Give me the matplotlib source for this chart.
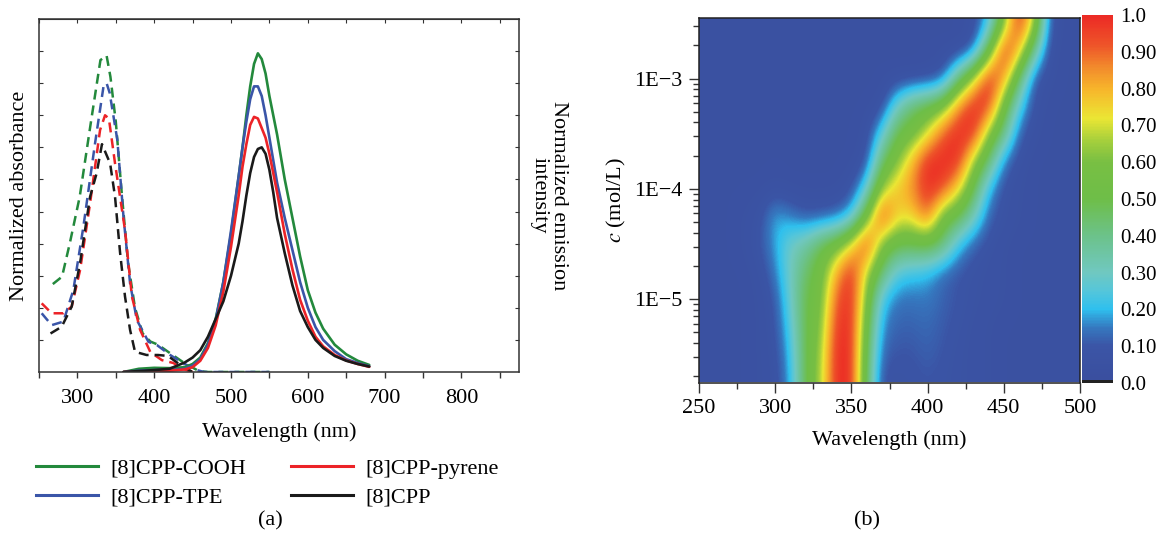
import matplotlib
matplotlib.use("Agg")
import matplotlib.pyplot as plt
from matplotlib.colors import LinearSegmentedColormap
from matplotlib.lines import Line2D
import numpy as np

plt.rcParams['font.family'] = ['Liberation Serif', 'DejaVu Serif']
plt.rcParams['font.size'] = 16
plt.rcParams['mathtext.fontset'] = 'stix'

# ---- panel (a): absorption (dashed) and emission (solid) ----
names = ['[8]CPP-COOH', '[8]CPP-TPE', '[8]CPP-pyrene', '[8]CPP']
colors = ['#23893c', '#3a55a8', '#ec2327', '#1a1a1a']

abs_cooh_x = [268, 280, 290, 303, 318, 330, 338, 343, 350, 358, 366, 375, 385, 395, 405, 421, 438, 458, 470, 550]
abs_cooh_y = [0.274, 0.297, 0.40, 0.546, 0.785, 0.972, 0.986, 0.92, 0.78, 0.55, 0.34, 0.20, 0.12, 0.095, 0.085, 0.058, 0.03, 0.003, 0.0, 0.0]
abs_tpe_x = [253.5, 266.5, 281.7, 294.7, 307.8, 323, 334, 338, 342, 352, 360, 368.6, 377.4, 392.5, 403.5, 420.8, 438, 455.6, 465, 550]
abs_tpe_y = [0.183, 0.146, 0.157, 0.255, 0.453, 0.713, 0.89, 0.90, 0.87, 0.723, 0.484, 0.276, 0.162, 0.094, 0.084, 0.053, 0.027, 0.006, 0.0, 0.0]
abs_pyr_x = [253.5, 266.5, 281.7, 292.6, 303.5, 316.5, 329.5, 336, 341, 349, 362, 371, 381.7, 395, 410, 425, 437, 450]
abs_pyr_y = [0.214, 0.183, 0.183, 0.204, 0.318, 0.526, 0.754, 0.80, 0.79, 0.65, 0.442, 0.235, 0.131, 0.062, 0.037, 0.028, 0.01, 0.0]
abs_cpp_x = [265, 279.5, 292.6, 303.5, 316.5, 325, 332, 342.6, 349, 355.6, 362, 368.6, 375, 390, 405, 418, 434, 450]
abs_cpp_y = [0.12, 0.141, 0.204, 0.34, 0.546, 0.619, 0.71, 0.65, 0.546, 0.371, 0.235, 0.131, 0.063, 0.053, 0.053, 0.05, 0.022, 0.0]

em_wl = [360, 380, 400, 420, 440, 450, 460, 470, 480, 490, 500, 510, 515, 520, 525, 530,
         535, 540, 545, 550, 555, 560, 570, 580, 590, 600, 610, 620, 635, 650, 665, 680]
em_cooh = [0.0, 0.010, 0.013, 0.012, 0.015, 0.025, 0.045, 0.09, 0.165, 0.28, 0.43, 0.61, 0.70, 0.80, 0.89, 0.96,
           0.993, 0.975, 0.93, 0.86, 0.80, 0.74, 0.60, 0.48, 0.36, 0.255, 0.185, 0.135, 0.085, 0.055, 0.035, 0.022]
em_tpe = [0.0, 0.004, 0.006, 0.006, 0.010, 0.020, 0.040, 0.085, 0.16, 0.28, 0.44, 0.61, 0.70, 0.78, 0.85, 0.89,
          0.89, 0.86, 0.80, 0.73, 0.66, 0.59, 0.48, 0.38, 0.28, 0.20, 0.14, 0.10, 0.065, 0.04, 0.028, 0.018]
em_pyr = [0.0, 0.0, 0.002, 0.004, 0.008, 0.015, 0.035, 0.075, 0.145, 0.25, 0.39, 0.55, 0.64, 0.71, 0.77, 0.795,
          0.79, 0.76, 0.73, 0.68, 0.62, 0.56, 0.43, 0.32, 0.225, 0.16, 0.11, 0.08, 0.053, 0.036, 0.025, 0.016]
em_cpp = [0.0, 0.003, 0.006, 0.010, 0.030, 0.045, 0.068, 0.11, 0.165, 0.22, 0.30, 0.40, 0.47, 0.55, 0.62, 0.67,
          0.695, 0.70, 0.68, 0.63, 0.56, 0.48, 0.37, 0.27, 0.19, 0.14, 0.10, 0.075, 0.05, 0.035, 0.025, 0.017]

# ---- panel (b): normalized intensity map, rows = log10 c (bottom->top), cols = 250..500 nm ----
map_wl = np.arange(250, 501, 10)
map_logc = [-5.75, -5.5, -5.25, -5.0, -4.75, -4.5, -4.25, -4.0, -3.75, -3.5, -3.25, -3.0, -2.75, -2.5]
b = 0.05
map_rows = [
    [b, b, b, b, 0.06, 0.07, 0.18, 0.5, 0.66, 1.0, 1.0, 0.45, 0.08, 0.08, 0.09, 0.1, 0.09, 0.08, 0.07, 0.06, b, b, b, b, b, b],
    [b, b, b, b, 0.06, 0.08, 0.2, 0.5, 0.64, 1.0, 1.0, 0.48, 0.12, 0.1, 0.1, 0.12, 0.1, 0.08, 0.07, 0.06, b, b, b, b, b, b],
    [b, b, b, b, 0.06, 0.09, 0.24, 0.5, 0.6, 0.97, 1.0, 0.53, 0.16, 0.12, 0.12, 0.13, 0.11, 0.09, 0.07, 0.06, b, b, b, b, b, b],
    [b, b, b, b, 0.06, 0.1, 0.28, 0.5, 0.56, 0.92, 1.0, 0.6, 0.22, 0.14, 0.14, 0.15, 0.12, 0.1, 0.08, 0.07, 0.06, b, b, b, b, b],
    [b, b, b, b, 0.07, 0.15, 0.3, 0.45, 0.55, 0.8, 1.0, 0.68, 0.45, 0.25, 0.22, 0.2, 0.13, 0.1, 0.08, 0.07, 0.06, b, b, b, b, b],
    [b, b, b, 0.06, 0.1, 0.18, 0.3, 0.35, 0.48, 0.55, 0.72, 1.0, 0.6, 0.5, 0.5, 0.52, 0.45, 0.22, 0.12, 0.08, 0.06, b, b, b, b, b],
    [b, b, b, 0.06, 0.08, 0.2, 0.15, 0.1, 0.1, 0.12, 0.2, 0.55, 1.0, 0.75, 0.75, 0.92, 0.55, 0.5, 0.33, 0.12, 0.08, 0.06, b, b, b, b],
    [b, b, b, b, b, 0.06, b, b, b, b, 0.08, 0.25, 0.65, 0.78, 0.85, 1.0, 0.95, 0.75, 0.5, 0.2, 0.08, 0.06, b, b, b, b],
    [b, b, b, b, b, b, b, b, b, b, b, 0.08, 0.45, 0.6, 0.8, 1.0, 1.0, 1.0, 0.65, 0.45, 0.15, 0.07, b, b, b, b],
    [b, b, b, b, b, b, b, b, b, b, b, 0.06, 0.25, 0.5, 0.55, 0.7, 0.92, 1.0, 1.0, 0.62, 0.42, 0.12, 0.06, b, b, b],
    [b, b, b, b, b, b, b, b, b, b, b, b, 0.06, 0.3, 0.45, 0.5, 0.58, 0.85, 1.0, 0.98, 0.55, 0.25, 0.08, b, b, b],
    [b, b, b, b, b, b, b, b, b, b, b, b, b, b, b, 0.06, 0.1, 0.4, 0.68, 1.0, 0.85, 0.45, 0.1, 0.06, b, b],
    [b, b, b, b, b, b, b, b, b, b, b, b, b, b, b, b, b, b, 0.1, 0.5, 1.0, 0.8, 0.38, 0.07, b, b],
    [b, b, b, b, b, b, b, b, b, b, b, b, b, b, b, b, b, b, 0.06, 0.2, 0.58, 1.0, 0.7, 0.1, b, b],
]
cbar_ticks = [0.0, 0.1, 0.2, 0.3, 0.4, 0.5, 0.6, 0.7, 0.8, 0.9, 1.0]
cbar_labels = ['0.0', '0.10', '0.20', '0.30', '0.40', '0.50', '0.60', '0.70', '0.80', '0.90', '1.0']

W, H = 1160, 537
fig = plt.figure(figsize=(W / 100, H / 100), dpi=100)


def px_axes(x0, y0, x1, y1):
    return fig.add_axes([x0 / W, 1 - y1 / H, (x1 - x0) / W, (y1 - y0) / H])


spine_col = '#333333'

# ---------------- (a) ----------------
ax = px_axes(39, 19, 519, 372)
dash = (0, (4.0, 2.4))
for (x, y), c in zip([(abs_cooh_x, abs_cooh_y), (abs_tpe_x, abs_tpe_y),
                      (abs_pyr_x, abs_pyr_y), (abs_cpp_x, abs_cpp_y)], colors):
    ax.plot(x, y, color=c, lw=1.8, ls=dash)
for y, c in zip([em_cooh, em_tpe, em_pyr, em_cpp], colors):
    ax.plot(em_wl, y, color=c, lw=1.9, solid_capstyle='round')

ax.set_xlim(250, 875)
ax.set_ylim(0, 1.1)
ax.set_xticks(np.arange(300, 801, 100))
ax.set_xticks(np.arange(250, 876, 100), minor=True)
ax.set_yticks(np.arange(0.1, 1.05, 0.1))
ax.set_yticklabels([])
ax.tick_params(axis='x', which='both', direction='out', length=4.5, width=1, color=spine_col,
               top=False, pad=8)
ax.tick_params(axis='y', which='both', direction='in', length=3, width=0.8, color=spine_col,
               left=True, right=True)
sec = ax.secondary_xaxis('top')
sec.set_xticks(np.arange(250, 876, 50))
sec.tick_params(direction='in', length=3, width=0.8, color=spine_col, labeltop=False)
sec.spines['top'].set_color(spine_col)
for s in ax.spines.values():
    s.set_color(spine_col)
    s.set_linewidth(1.1)
ax.set_xlabel('Wavelength (nm)', labelpad=10)
ax.set_ylabel('Normalized absorbance', labelpad=4)
ax.text(1.062, 0.5, 'Normalized emission\nintensity', transform=ax.transAxes, rotation=270,
        ha='center', va='center', multialignment='center', linespacing=1.0)

handles = [Line2D([], [], color=c, lw=2.2) for c in colors]
fig.legend(handles, names, ncol=2, loc='upper left',
           bbox_to_anchor=(36 / W, 1 - 458 / H), frameon=False, handlelength=2.8,
           handletextpad=0.55, columnspacing=2.0, labelspacing=0.4, borderpad=0, borderaxespad=0)
fig.text(270 / W, 1 - 521 / H, '(a)', ha='center', va='center')

# ---------------- (b) ----------------
cmap = LinearSegmentedColormap.from_list('spec', [
    (0.00, '#3a4e9e'), (0.10, '#3b55a6'), (0.15, '#3579c0'), (0.20, '#2fc0ee'),
    (0.25, '#55c6da'), (0.30, '#70c8c0'), (0.40, '#6cc28a'), (0.50, '#6ebe48'),
    (0.60, '#78bf43'), (0.66, '#a6cf3c'), (0.72, '#ebe634'), (0.80, '#f7b52b'),
    (0.86, '#f28a2c'), (0.92, '#ee5429'), (1.00, '#ec2a25')])
cmap.set_under('#3a4e9e')
cmap.set_over('#ec2a25')

bx = px_axes(699, 17.5, 1080, 382.5)
dl = 5
dy = (map_logc[1] - map_logc[0]) / 2
im = bx.imshow(np.array(map_rows), origin='lower', aspect='auto', cmap=cmap, vmin=0, vmax=1,
               interpolation='bicubic',
               extent=[map_wl[0] - dl, map_wl[-1] + dl, map_logc[0] - dy, map_logc[-1] + dy])
bx.set_xlim(250, 500)
bx.set_ylim(-5.755, -2.447)
bx.set_xticks(np.arange(250, 501, 50))
bx.set_xticks(np.arange(275, 500, 50), minor=True)
bx.set_yticks([-5, -4, -3])
bx.set_yticklabels(['1E\u22125', '1E\u22124', '1E\u22123'])
minor_y = [np.log10(k * 10.0 ** n) for n in range(-6, -2) for k in range(2, 10)]
bx.set_yticks([v for v in minor_y if -5.755 < v < -2.447], minor=True)
bx.tick_params(which='major', direction='out', length=7, width=1, color=spine_col, pad=5)
bx.tick_params(which='minor', direction='out', length=4, width=1, color=spine_col)
for s in bx.spines.values():
    s.set_color('#222222')
    s.set_linewidth(1.1)
bx.set_xlabel('Wavelength (nm)', labelpad=9)
bx.set_ylabel('$c$ (mol/L)', labelpad=4)
fig.text(867 / W, 1 - 521 / H, '(b)', ha='center', va='center')

cax = px_axes(1082, 15, 1113, 383)
cb = fig.colorbar(im, cax=cax, ticks=cbar_ticks)
cb.ax.set_yticklabels(cbar_labels, fontsize=15)
cb.ax.tick_params(length=0, pad=5)
cb.outline.set_visible(False)
cax.axhspan(0, 0.009, color='#222222', lw=0)

fig.savefig('out.png', dpi=100)
